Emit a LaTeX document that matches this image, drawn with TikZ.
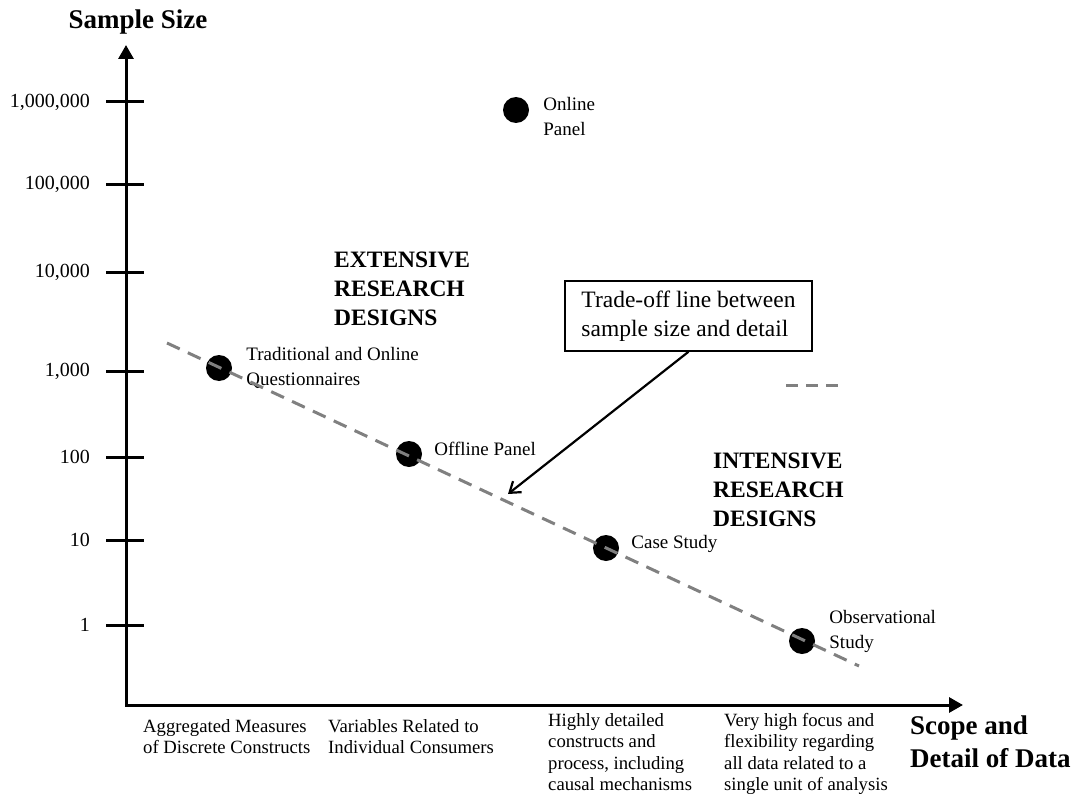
\documentclass[tikz,border=0pt]{standalone}
\usepackage{fontspec}
\setmainfont{Liberation Serif}
\usetikzlibrary{positioning,arrows.meta}

\tikzset{
  dot/.style={circle, fill=black, inner sep=0pt, minimum size=26pt},
  lbl/.style={inner sep=0pt, align=left, font=\fontsize{19}{25}\selectfont},
  ticklbl/.style={inner sep=0pt, anchor=east, font=\fontsize{20}{24}\selectfont},
  scopelbl/.style={inner sep=0pt, align=left, anchor=north west, font=\fontsize{18.7}{21.5}\selectfont},
  region/.style={inner sep=0pt, align=left, anchor=north west, font=\fontsize{23.5}{29}\selectfont\bfseries},
  axis/.style={line width=3pt, {Triangle[length=14pt,width=15pt]}-{Triangle[length=14pt,width=15pt]}},
  tradeline/.style={gray, line width=3pt, dash pattern=on 14pt off 9pt},
}

\begin{document}
\begin{tikzpicture}[x=1pt,y=-1pt]
  \useasboundingbox (0,0) rectangle (1076,797);

  % Axes
  \coordinate (origin) at (126,705);
  \coordinate (ytop) at (126,45);
  \coordinate (xend) at (963,705);
  \draw[axis] (ytop) -- (origin) -- (xend);

  \node[font=\fontsize{27}{33}\selectfont\bfseries] (ytitle) at (138,22) {Sample Size};
  \node[inner sep=0pt, align=left, anchor=north west, font=\fontsize{27}{33}\selectfont\bfseries]
    (xtitle) at (910,716) {Scope and\\Detail of Data};

  % Ticks
  \foreach \lab/\yy in {{1,000,000}/102, {100,000}/184, {10,000}/272, {1,000}/371, {100}/457, {10}/540, {1}/625} {
    \draw[line width=3pt] (106,\yy) -- (144,\yy);
    \node[ticklbl] (tick-\yy) at (90,\yy) {\lab};
  }

  % Designs
  \node[dot] (online) at (516,110) {};
  \node[dot] (quest) at (219,368) {};
  \node[dot] (offline) at (409,454) {};
  \node[dot] (casestudy) at (606,548) {};
  \node[dot] (observe) at (802,641) {};

  \node[lbl, right=14pt of online, yshift=-7pt] (online-lbl) {Online\\Panel};
  \node[lbl, right=14pt of quest] (quest-lbl) {Traditional and Online\\Questionnaires};
  \node[lbl, right=12pt of offline, yshift=5pt] (offline-lbl) {Offline Panel};
  \node[lbl, right=12pt of casestudy, yshift=4pt] (case-lbl) {Case Study};
  \node[lbl, right=14pt of observe, yshift=10pt] (obs-lbl) {Observational\\Study};

  % Trade-off line
  \coordinate (tl-start) at (167,343);
  \coordinate (tl-end) at (859,666);
  \draw[tradeline] (tl-start) -- (tl-end);
  \draw[tradeline, dash pattern=on 12pt off 8pt] (786,385) -- (838,385);

  \node[region] (extensive) at (334,252) {EXTENSIVE\\RESEARCH\\DESIGNS};
  \node[region] (intensive) at (713,453) {INTENSIVE\\RESEARCH\\DESIGNS};

  \node[draw, line width=1.5pt, align=left, minimum width=247pt, minimum height=70pt,
    font=\fontsize{23.5}{29}\selectfont] (tradebox) at (688.5,316) {Trade-off line between\\sample size and detail};
  \coordinate (tip) at (508,494);
  \draw[line width=2.2pt, -{Straight Barb[length=10pt,width=14pt]}] (tradebox.south) -- (tip);

  % Scope labels
  \node[scopelbl] (agg) at (143,719) {Aggregated Measures\\of Discrete Constructs};
  \node[scopelbl] (var) at (328,719) {Variables Related to\\Individual Consumers};
  \node[scopelbl] (highly) at (548,713) {Highly detailed\\constructs and\\process, including\\causal mechanisms};
  \node[scopelbl] (focus) at (724,713) {Very high focus and\\flexibility regarding\\all data related to a\\single unit of analysis};
\end{tikzpicture}
\end{document}
